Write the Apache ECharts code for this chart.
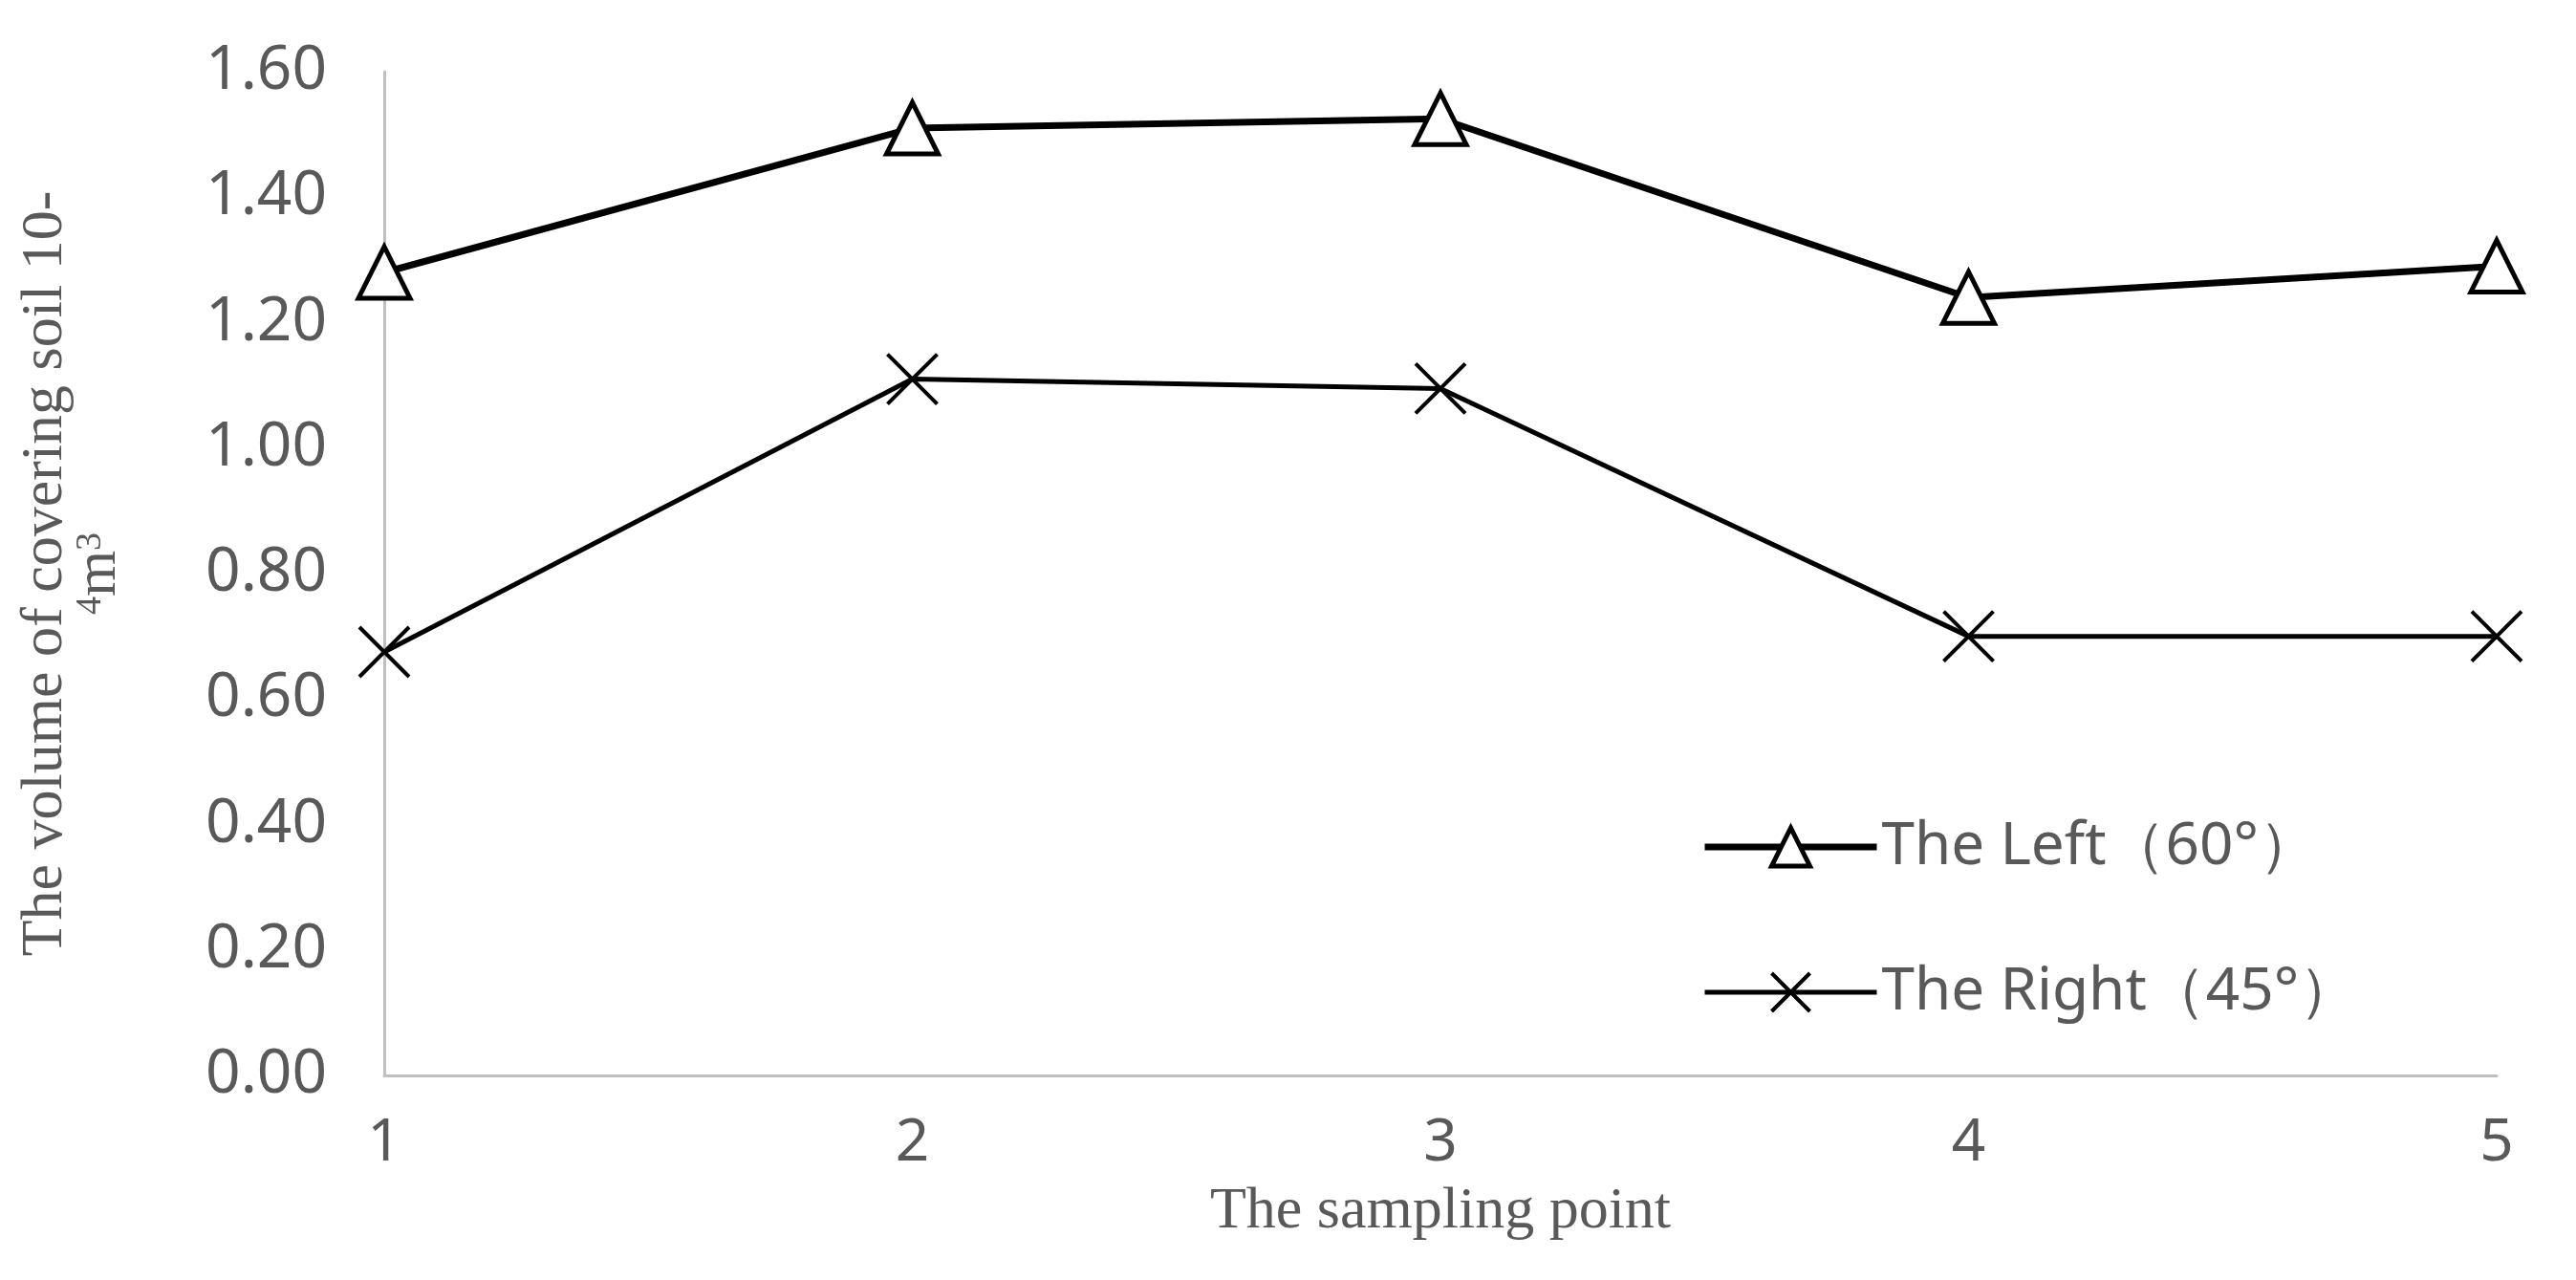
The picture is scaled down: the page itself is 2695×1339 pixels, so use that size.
<!DOCTYPE html>
<html><head><meta charset="utf-8">
<script src="https://cdn.jsdelivr.net/npm/echarts@6/dist/echarts.min.js"></script>
<style>html,body{margin:0;padding:0;background:#fff}#c{width:2695px;height:1339px}</style>
</head><body><div id="c"></div>
<script>
var categories = ['1', '2', '3', '4', '5'];
var leftValues = [1.28, 1.51, 1.525, 1.24, 1.29];
var rightValues = [0.675, 1.11, 1.095, 0.70, 0.70];

var myChart = echarts.init(document.getElementById('c'));
var cross = 'path://M0,0L10,10L5,5L10,0L0,10L5,5Z';
var option = {
    animation: false,
    grid: { left: 419, right: 55, top: 75, bottom: 198 },
    legend: {
        orient: 'vertical', left: 1775, top: 850, itemGap: 90,
        itemWidth: 180, itemHeight: 50,
        textStyle: { fontSize: 62, color: '#595959', fontFamily: 'Noto Sans' },
        data: [
            { name: 'The Left（60°）', lineStyle: { width: 7 }, itemStyle: { borderWidth: 5 } },
            { name: 'The Right（45°）', lineStyle: { width: 5 }, itemStyle: { borderWidth: 4 } }
        ]
    },
    xAxis: {
        type: 'category', data: categories, boundaryGap: false,
        axisLine: { lineStyle: { color: '#bfbfbf', width: 3 } },
        axisTick: { show: false },
        axisLabel: { fontSize: 62, color: '#595959', margin: 40, fontFamily: 'Noto Sans' },
        name: 'The sampling point', nameLocation: 'middle', nameGap: 112,
        nameTextStyle: { fontSize: 62, color: '#595959', fontFamily: 'Liberation Serif' }
    },
    yAxis: {
        type: 'value', min: 0, max: 1.6, interval: 0.2,
        axisLine: { show: true, lineStyle: { color: '#bfbfbf', width: 3 } },
        splitLine: { show: false },
        axisLabel: { fontSize: 64, color: '#595959', margin: 60, fontFamily: 'Noto Sans',
            formatter: function (v) { return v.toFixed(2); } },
        name: 'The volume of covering soil 10-\n{sup|4}m{sup|3}',
        nameLocation: 'middle', nameRotate: 90, nameGap: 270,
        nameTextStyle: { fontSize: 62, color: '#595959', fontFamily: 'Liberation Serif', lineHeight: 56,
            rich: { sup: { fontSize: 38, color: '#595959', fontFamily: 'Liberation Serif', verticalAlign: 'top', padding: [0, 0, 22, 0] } } }
    },
    series: [
        {
            name: 'The Left（60°）', type: 'line', data: leftValues,
            symbol: 'triangle', symbolSize: 54,
            lineStyle: { color: '#000', width: 7 },
            itemStyle: { color: '#fff', borderColor: '#000', borderWidth: 5 }
        },
        {
            name: 'The Right（45°）', type: 'line', data: rightValues,
            symbol: cross, symbolSize: 52,
            lineStyle: { color: '#000', width: 5 },
            itemStyle: { color: '#000', borderColor: '#000', borderWidth: 4 }
        }
    ]
};
option.grid = { left: 402, right: 83, top: 75, bottom: 198 + 16 };
myChart.setOption(option);
</script></body></html>
